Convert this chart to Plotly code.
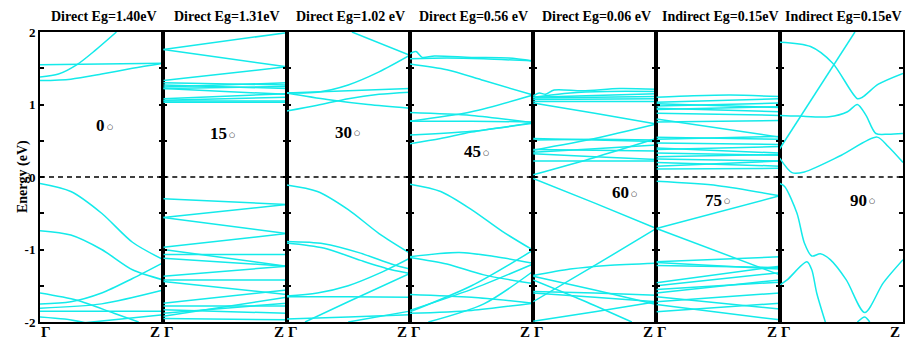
import plotly.graph_objects as go
from plotly.subplots import make_subplots

# ---------------- data ----------------
panel_titles = ["Direct Eg=1.40eV", "Direct Eg=1.31eV", "Direct Eg=1.02 eV", "Direct Eg=0.56 eV",
                "Direct Eg=0.06 eV", "Indirect Eg=0.15eV", "Indirect Eg=0.15eV"]
panel_angles = ["0", "15", "30", "45", "60", "75", "90"]
angle_label_k = [0.53, 0.52, 0.53, 0.58, 0.78, 0.53, 0.71]   # right edge of the number
angle_label_e = [0.71, 0.60, 0.62, 0.35, -0.22, -0.32, -0.32]
degree_mark = "○"
kpoint_left = "Γ"
kpoint_right = "Z"
ytick_vals = [-2, -1.5, -1, -0.5, 0, 0.5, 1, 1.5, 2]
ytick_text = ["-2", " ", "-1", " ", "0", " ", "1", " ", "2"]

# each band: (k values, energies in eV)
bands_0 = [
    ([0, 0.15, 0.3, 0.45, 0.62], [1.38, 1.42, 1.55, 1.75, 2.0]),
    ([0, 0.25, 0.5, 0.75, 1], [1.33, 1.35, 1.42, 1.50, 1.57]),
    ([0, 0.5, 1], [1.55, 1.56, 1.57]),
    ([0, 0.25, 0.5, 0.75, 1], [-0.09, -0.2, -0.5, -0.9, -1.14]),
    ([0, 0.25, 0.5, 0.75, 1], [-0.74, -0.8, -1.0, -1.28, -1.42]),
    ([0, 0.25, 0.5, 0.75, 1], [-1.75, -1.72, -1.6, -1.4, -1.18]),
    ([0, 0.3, 0.6, 0.8], [-1.6, -1.7, -1.88, -2.0]),
    ([0, 0.5, 1], [-1.81, -1.75, -1.56]),
    ([0, 0.5, 1], [-1.85, -1.85, -1.85]),
    ([0, 0.2, 0.4], [-1.93, -1.96, -2.02]),
    ([0.3, 0.6, 1], [-2.02, -1.97, -1.9]),
]
bands_15 = [
    ([0, 1], [1.76, 1.99]), ([0, 1], [1.76, 1.52]), ([0, 1], [1.33, 1.52]),
    ([0, 1], [1.30, 1.27]), ([0, 1], [1.27, 1.22]), ([0, 1], [1.24, 1.30]),
    ([0, 1], [1.22, 1.25]), ([0, 1], [1.22, 1.14]), ([0, 1], [1.08, 1.15]),
    ([0, 1], [1.05, 1.05]), ([0, 1], [1.06, 1.10]), ([0, 1], [1.03, 1.03]),
    ([0, 1], [-0.30, -0.38]), ([0, 1], [-0.56, -0.38]), ([0, 1], [-0.56, -0.78]),
    ([0, 1], [-0.97, -0.78]), ([0, 1], [-1.00, -1.23]), ([0, 1], [-1.07, -1.07]),
    ([0, 1], [-1.12, -1.23]), ([0, 1], [-1.37, -1.23]), ([0, 1], [-1.42, -1.42]),
    ([0, 1], [-1.44, -1.62]), ([0, 1], [-1.74, -1.56]), ([0, 1], [-1.78, -1.78]),
    ([0, 1], [-1.83, -1.88]), ([0, 1], [-1.88, -1.74]), ([0, 1], [-1.95, -1.97]),
    ([0, 1], [-1.92, -1.66]),
]
bands_30 = [
    ([0.53, 1], [2.0, 1.68]),
    ([0, 0.25, 0.5, 0.75, 1], [1.16, 1.17, 1.27, 1.45, 1.68]),
    ([0, 0.5, 1], [1.16, 1.19, 1.22]),
    ([0, 0.33, 0.66, 1], [1.16, 1.07, 1.0, 0.95]),
    ([0, 0.25, 0.5, 0.75, 1], [0.91, 0.99, 1.08, 1.14, 1.17]),
    ([0, 0.25, 0.5, 0.75, 1], [-0.11, -0.2, -0.45, -0.78, -1.05]),
    ([0, 0.3, 0.6, 0.85, 1], [-0.89, -0.92, -1.05, -1.2, -1.27]),
    ([0, 0.3, 0.6, 0.85, 1], [-0.91, -0.98, -1.15, -1.28, -1.33]),
    ([0, 0.25, 0.5, 0.75, 1], [-1.64, -1.6, -1.5, -1.33, -1.12]),
    ([0.15, 0.5, 1], [-2.0, -1.72, -1.33]),
    ([0.5, 1], [-2.0, -1.85]),
    ([0, 0.5, 1], [-1.65, -1.65, -1.66]),
    ([0, 0.5, 1], [-1.96, -1.93, -1.9]),
]
bands_45 = [
    ([0, 0.05, 0.1, 0.2, 0.5, 0.8, 1], [1.70, 1.73, 1.65, 1.67, 1.65, 1.64, 1.60]),
    ([0, 0.3, 0.6, 1], [1.63, 1.64, 1.63, 1.60]),
    ([0, 0.3, 0.6, 1], [1.56, 1.48, 1.33, 1.13]),
    ([0, 0.5, 1], [0.89, 0.85, 0.75]),
    ([0, 0.5, 1], [0.77, 0.9, 1.13]),
    ([0, 0.5, 1], [0.77, 0.77, 0.76]),
    ([0, 0.5, 1], [0.58, 0.63, 0.75]),
    ([0, 0.25, 0.5, 1], [0.46, 0.53, 0.62, 0.74]),
    ([0, 0.25, 0.5, 0.75, 1], [-0.10, -0.2, -0.45, -0.75, -1.01]),
    ([0, 0.4, 0.7, 1], [-1.10, -1.04, -1.1, -1.19]),
    ([0, 0.3, 0.6, 1], [-1.11, -1.2, -1.35, -1.47]),
    ([0, 0.5, 1], [-1.62, -1.66, -1.74]),
    ([0, 0.5, 1], [-1.86, -1.5, -1.01]),
    ([0, 0.5, 1], [-1.84, -1.55, -1.2]),
    ([0, 0.5, 1], [-1.88, -1.84, -1.74]),
    ([0.15, 0.6, 1], [-2.0, -1.75, -1.3]),
]
bands_60 = [
    ([0, 0.05, 0.1, 0.17, 0.4, 0.7, 1], [1.12, 1.16, 1.14, 1.2, 1.19, 1.22, 1.21]),
    ([0, 0.3, 0.6, 1], [1.10, 1.16, 1.18, 1.18]),
    ([0, 1], [1.10, 1.15]), ([0, 1], [1.09, 1.11]), ([0, 1], [1.07, 1.08]),
    ([0, 1], [1.04, 1.04]),
    ([0, 0.5, 1], [1.02, 0.88, 0.73]),
    ([0, 0.5, 1], [0.53, 0.51, 0.49]),
    ([0, 0.5, 1], [0.51, 0.52, 0.51]),
    ([0, 0.5, 1], [0.37, 0.53, 0.73]),
    ([0, 0.5, 1], [0.38, 0.37, 0.36]),
    ([0, 0.5, 1], [0.34, 0.39, 0.44]),
    ([0, 0.5, 1], [0.32, 0.28, 0.24]),
    ([0, 0.5, 1], [0.22, 0.22, 0.22]),
    ([0, 0.5, 1], [0.03, 0.27, 0.53]),
    ([0, 0.5, 1], [-0.02, -0.36, -0.71]),
    ([0, 0.5, 1], [-1.72, -1.22, -0.71]),
    ([0, 0.3, 0.6, 1], [-1.36, -1.27, -1.22, -1.19]),
    ([0, 0.5, 1], [-1.37, -1.56, -1.76]),
    ([0, 0.4, 0.8], [-1.42, -1.7, -2.0]),
    ([0, 0.5, 1], [-1.58, -1.6, -1.63]),
    ([0, 0.5, 1], [-1.60, -1.66, -1.72]),
    ([0, 0.5, 1], [-1.99, -1.86, -1.72]),
]
bands_75 = [
    ([0, 0.3, 0.6, 1], [1.10, 1.12, 1.13, 1.11]),
    ([0, 1], [1.03, 1.08]), ([0, 1], [1.01, 0.96]), ([0, 1], [0.98, 1.02]),
    ([0, 1], [0.95, 0.90]), ([0, 1], [0.93, 0.97]), ([0, 1], [0.88, 0.85]),
    ([0, 1], [0.80, 0.55]), ([0, 1], [0.76, 0.78]),
    ([0, 1], [0.55, 0.52]), ([0, 1], [0.52, 0.56]), ([0, 1], [0.47, 0.45]),
    ([0, 1], [0.40, 0.33]), ([0, 1], [0.38, 0.42]), ([0, 1], [0.33, 0.30]),
    ([0, 1], [0.28, 0.31]), ([0, 1], [0.25, 0.22]), ([0, 1], [0.20, 0.15]),
    ([0, 1], [0.15, 0.22]), ([0, 1], [0.11, 0.12]),
    ([0, 0.5, 1], [-0.06, -0.12, -0.26]),
    ([0, 1], [-0.71, -0.26]),
    ([0, 1], [-0.71, -1.35]),
    ([0, 1], [-1.17, -1.10]), ([0, 1], [-1.18, -1.27]), ([0, 1], [-1.22, -1.25]),
    ([0, 1], [-1.46, -1.23]), ([0, 1], [-1.50, -1.32]), ([0, 1], [-1.55, -1.45]),
    ([0, 1], [-1.60, -1.42]), ([0, 1], [-1.65, -1.82]), ([0, 1], [-1.72, -1.60]),
    ([0, 1], [-1.76, -1.97]), ([0, 1], [-1.86, -1.74]),
]
bands_90 = [
    ([0, 0.25, 0.43, 0.63, 0.67, 0.8, 1], [1.86, 1.8, 1.57, 1.08, 1.10, 1.28, 1.43]),
    ([0, 0.61], [0.39, 2.0]),
    ([0, 0.15, 0.4, 0.55, 0.63, 0.7, 0.78, 0.88, 1], [0.85, 0.84, 0.83, 0.9, 1.0, 0.85, 0.6, 0.59, 0.6]),
    ([0, 0.1, 0.2, 0.5, 0.79, 0.88, 1], [0.26, 0.06, 0.07, 0.3, 0.55, 0.42, 0.2]),
    ([0, 0.04, 0.14, 0.2, 0.26, 0.33, 0.41, 0.54, 0.69, 0.84, 1],
     [-0.09, -0.13, -0.5, -0.91, -1.09, -1.06, -1.14, -1.42, -1.87, -1.46, -1.14]),
    ([0, 0.06, 0.22, 0.26, 0.3, 0.37], [-1.49, -1.42, -1.17, -1.28, -1.6, -2.0]),
    ([0.63, 0.69, 0.73], [-2.0, -1.93, -2.0]),
]
all_bands = [bands_0, bands_15, bands_30, bands_45, bands_60, bands_75, bands_90]

# ---------------- figure ----------------
BAND_COLOR = "#14EAEA"
FONT = "Liberation Serif"

fig = make_subplots(rows=1, cols=7, shared_yaxes=True, horizontal_spacing=0)

for p, bands in enumerate(all_bands):
    col = p + 1
    for ks, es in bands:
        fig.add_trace(go.Scatter(x=ks, y=es, mode="lines",
                                 line=dict(color=BAND_COLOR, width=1.5, shape="spline", smoothing=0.8),
                                 showlegend=False, hoverinfo="skip"), row=1, col=col)
    # Fermi level
    fig.add_trace(go.Scatter(x=[0, 1], y=[0, 0], mode="lines",
                             line=dict(color="black", width=1.3, dash="5px,4px"),
                             showlegend=False, hoverinfo="skip"), row=1, col=col)
    xname = "x" if col == 1 else f"x{col}"
    # titles
    fig.add_annotation(text="<b>" + panel_titles[p] + "</b>", xref=f"{xname} domain", yref="paper",
                       x=0.5, y=1, yanchor="bottom", yshift=6, xshift=2, showarrow=False,
                       font=dict(family=FONT, size=14, color="black"))
    # angle labels: number + small circle
    fig.add_annotation(text="<b>" + panel_angles[p] + "</b>",
                       xref=xname, yref="y", x=angle_label_k[p], y=angle_label_e[p],
                       xanchor="right", xshift=1, showarrow=False, borderpad=0,
                       font=dict(family=FONT, size=17, color="black"))
    fig.add_annotation(text=degree_mark,
                       xref=xname, yref="y", x=angle_label_k[p], y=angle_label_e[p],
                       xanchor="left", yanchor="middle", xshift=1, yshift=-1, showarrow=False,
                       borderpad=0, font=dict(family="DejaVu Sans", size=7, color="black"))
    # k-point labels
    fig.add_annotation(text="<b>" + kpoint_left + "</b>", xref=f"{xname} domain", yref="paper",
                       x=0, y=0, xanchor="left", yanchor="top", xshift=-1, yshift=0, showarrow=False,
                       font=dict(family=FONT, size=15, color="black"))
    fig.add_annotation(text="<b>" + kpoint_right + "</b>", xref=f"{xname} domain", yref="paper",
                       x=1, y=0, xanchor="right", yanchor="top", xshift=-1, yshift=0, showarrow=False,
                       font=dict(family=FONT, size=15, color="black"))

fig.update_xaxes(range=[0, 1], showline=True, mirror=True, linewidth=2, linecolor="black",
                 showgrid=False, zeroline=False, showticklabels=False, ticks="")
fig.update_yaxes(range=[-2, 2], showline=True, mirror="ticks", linewidth=2, linecolor="black",
                 showgrid=False, zeroline=False, ticks="inside", ticklen=4, tickwidth=1.5,
                 tickcolor="black", tickvals=ytick_vals,
                 ticktext=["<b>" + t + "</b>" if t.strip() else t for t in ytick_text])
fig.update_yaxes(tickfont=dict(family=FONT, size=13, color="black"), row=1, col=1)

fig.add_annotation(text="<b>Energy (eV)</b>", xref="paper", yref="paper", x=0, y=0.5,
                   xshift=-27, textangle=-90, showarrow=False,
                   font=dict(family=FONT, size=14, color="black"))

fig.update_layout(width=909, height=343, margin=dict(l=40, r=4, t=32, b=21),
                  paper_bgcolor="white", plot_bgcolor="white",
                  font=dict(family=FONT, color="black"))

fig.write_html("out.html")
